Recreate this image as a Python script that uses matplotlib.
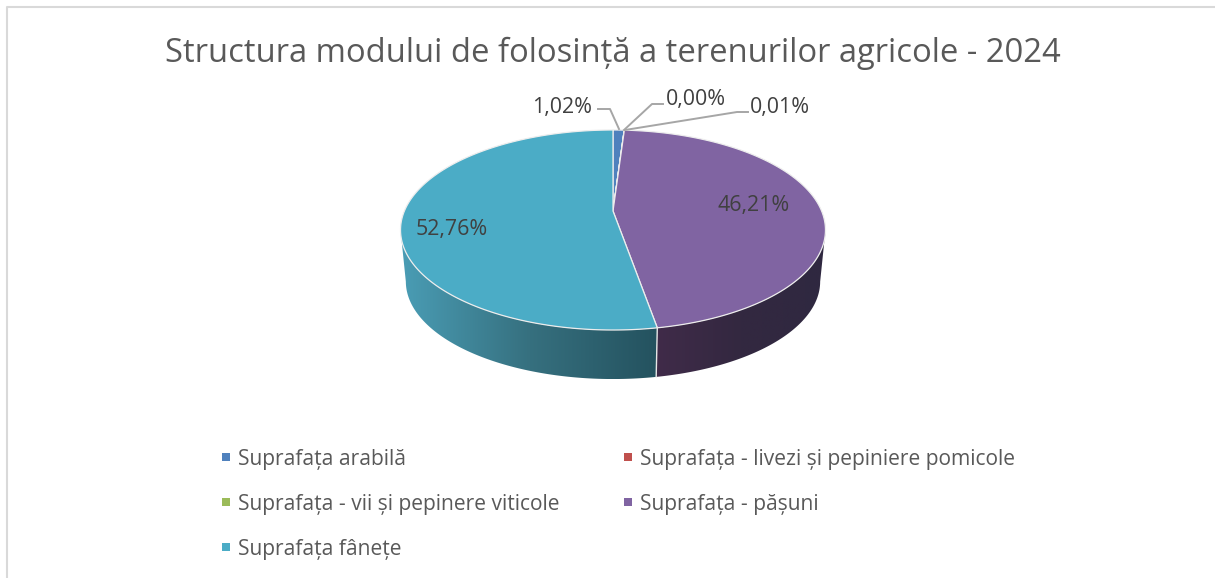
import numpy as np
import matplotlib
matplotlib.use('Agg')
import matplotlib.pyplot as plt
from matplotlib.patches import Polygon, Rectangle
from matplotlib.colors import LinearSegmentedColormap

plt.rcParams['font.family'] = ['Open Sans', 'DejaVu Sans']

title = "Structura modului de folosință a terenurilor agricole - 2024"
categories = ["Suprafața arabilă", "Suprafața - livezi și pepiniere pomicole",
              "Suprafața - vii și pepinere viticole", "Suprafața - pășuni", "Suprafața fânețe"]
values = [1.02, 0.00, 0.01, 46.21, 52.76]
value_labels = ["1,02%", "0,00%", "0,01%", "46,21%", "52,76%"]
colors = ["#4F81BD", "#C0504D", "#9BBB59", "#8064A2", "#4BACC6"]

# pie seen in perspective, everything in image pixels
CX, CY = 613.0, 211.0
A, B, K = 208.6, 96.4, 0.19
DEPTH, SHRINK = 52.0, 0.975


def top(theta):
    # theta clockwise from 12 o'clock, radians
    u, v = np.sin(theta), np.cos(theta)
    return CX + A * u / (1 + K * v), CY - B * v / (1 + K * v)


def bottom(theta):
    x, y = top(theta)
    return CX + (x - CX) * SHRINK, CY + DEPTH + (y - CY) * SHRINK


fig = plt.figure(figsize=(12.15, 5.78), dpi=100)
ax = fig.add_axes([0, 0, 1, 1])
ax.axis('off')

# chart frame, only top and left are inside the crop
ax.plot([6.5, 6.5, 1215], [578, 6.5, 6.5], color="#D9D9D9", lw=1.5)

ends = np.cumsum(values) / 100 * 2 * np.pi
starts = np.r_[0, ends[:-1]]

# side walls with a horizontal gradient, clipped to the wall outline
side_shades = {3: ["#402B49", "#332840", "#2F2840"], 4: ["#4A9DB5", "#36707F", "#24525F"]}
for i, ramp in side_shades.items():
    th = np.linspace(starts[i], ends[i], 300)
    th = th[np.cos(th) <= -K]  # silhouette of the top face
    xt, yt = top(th)
    xb, yb = bottom(th)
    outline = Polygon(np.c_[np.r_[xt, xb[::-1]], np.r_[yt, yb[::-1]]], fc='none', ec='none',
                      transform=ax.transData)
    ax.add_patch(outline)
    x0, x1 = min(xt.min(), xb.min()), max(xt.max(), xb.max())
    y0, y1 = min(yt.min(), yb.min()), max(yt.max(), yb.max())
    cmap = LinearSegmentedColormap.from_list("wall", ramp)
    im = ax.imshow(np.linspace(0, 1, 256).reshape(1, -1), cmap=cmap, aspect='auto',
                   extent=(x0, x1, y1, y0), zorder=2, interpolation='bilinear')
    im.set_clip_path(outline)

ax.set_xlim(0, 1215)
ax.set_ylim(578, 0)

# light line between the two walls
seam = ends[3]
ax.plot([top(seam)[0], bottom(seam)[0]], [top(seam)[1], bottom(seam)[1]],
        color="#E6E6E6", lw=1.0, zorder=3)

# top face
for i in range(len(values)):
    th = np.linspace(starts[i], ends[i], 200)
    x, y = top(th)
    ax.add_patch(Polygon(np.c_[np.r_[CX, x], np.r_[CY, y]], fc=colors[i],
                         ec="#EDEDED", lw=0.9, zorder=4, joinstyle='round'))

# leader lines
leaders = [([598, 610, 619], [109, 109, 129]),
           ([663, 652, 624], [104, 104, 130]),
           ([748, 737, 625], [112, 112, 130])]
for lx, ly in leaders:
    ax.plot(lx, ly, color="#A6A6A6", lw=1.4, zorder=5)

label_pos = [(562, 107), (695.5, 99.5), (780, 108), (754, 206), (452, 230)]
for s, (x, y) in zip(value_labels, label_pos):
    ax.text(x, y, s, ha='center', va='center', fontsize=15.4, color="#404040", zorder=6)

ax.text(613, 53.5, title, ha='center', va='center', fontsize=23.55, color="#595959")

# legend, filled row by row
leg_x = [226, 628]
leg_y = [457, 502, 547]
for i, name in enumerate(categories):
    mx, my = leg_x[i % 2], leg_y[i // 2]
    ax.add_patch(Rectangle((mx - 4, my - 4), 8, 8, fc=colors[i], ec='none'))
    ax.text(mx + 12, my + 2.5, name, ha='left', va='center', fontsize=15.15, color="#595959")

fig.savefig("out.png", dpi=100)
